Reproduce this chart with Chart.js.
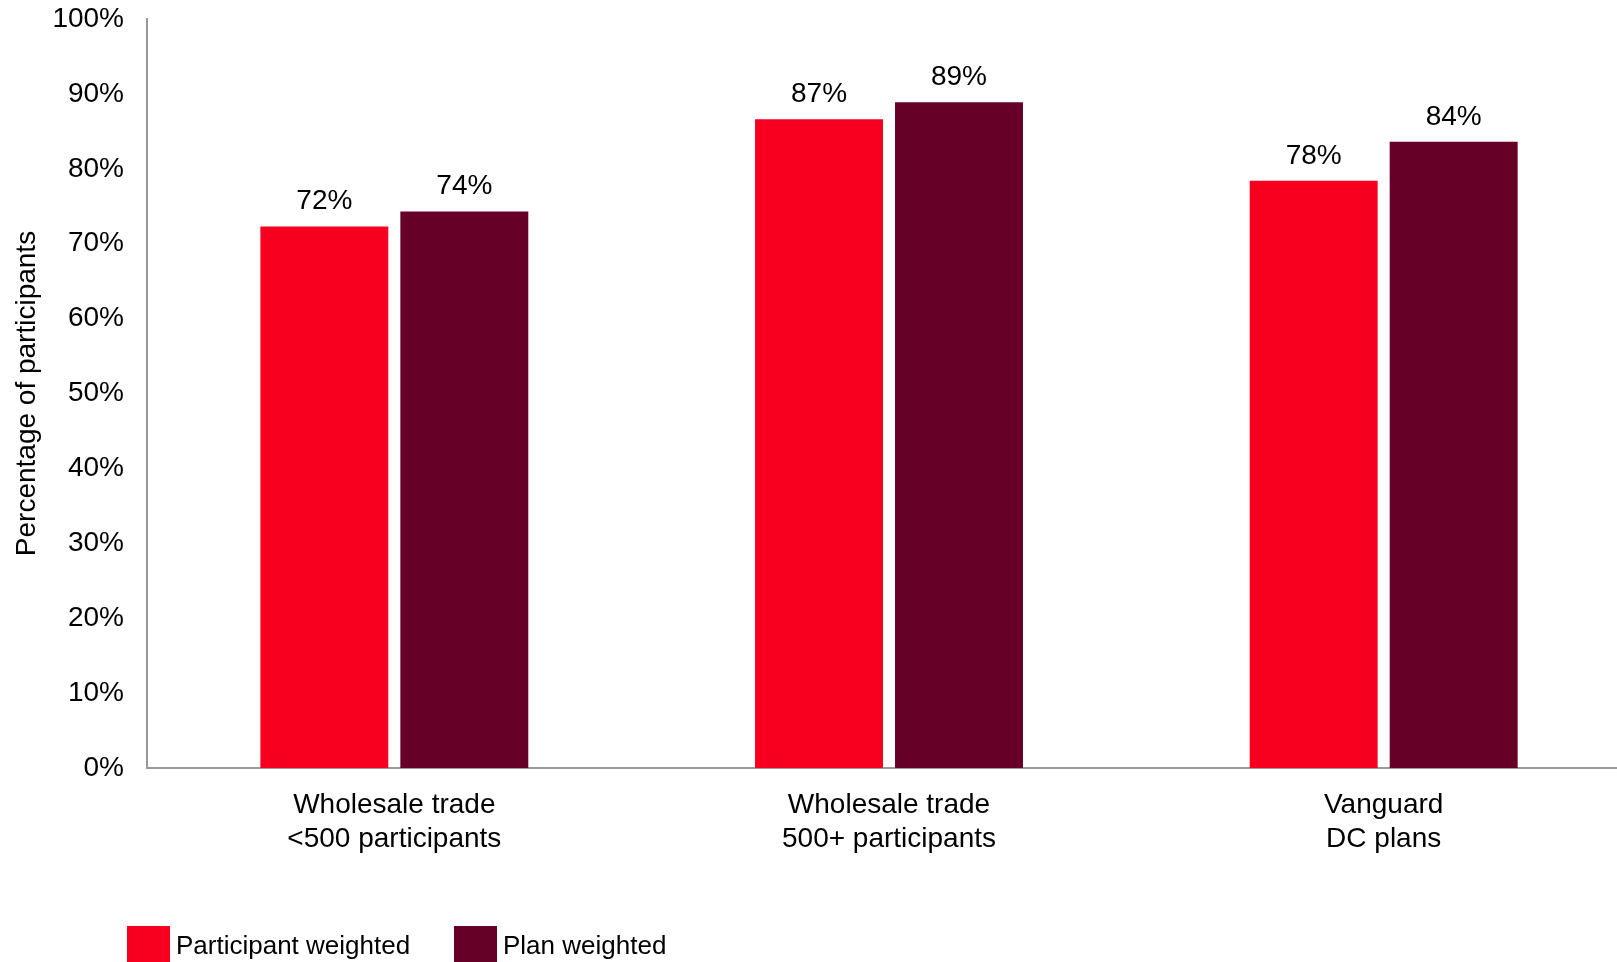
<!DOCTYPE html>
<html>
<head>
<meta charset="utf-8">
<script src="https://cdn.jsdelivr.net/npm/chart.js@4/dist/chart.umd.min.js"></script>
<style>
  html, body { margin: 0; padding: 0; background: #fff; overflow: hidden; }
  #wrap { position: relative; width: 1631px; height: 985px; }
</style>
</head>
<body>
<div id="wrap"><canvas id="chart"></canvas></div>
<script>
const categories = [
  ["Wholesale trade", "<500 participants"],
  ["Wholesale trade", "500+ participants"],
  ["Vanguard", "DC plans"],
];
const participantWeighted = [72.3, 86.6, 78.4];
const planWeighted = [74.3, 88.9, 83.6];
const seriesNames = ["Participant weighted", "Plan weighted"];
const yTicks = [0, 10, 20, 30, 40, 50, 60, 70, 80, 90, 100];

const FONT = "'Liberation Sans', Arial, sans-serif";

// value labels above each bar
const barLabels = {
  id: "barLabels",
  afterDatasetsDraw(chart) {
    const ctx = chart.ctx;
    ctx.save();
    ctx.font = "28px " + FONT;
    ctx.fillStyle = "#000";
    ctx.textAlign = "center";
    ctx.textBaseline = "alphabetic";
    chart.data.datasets.forEach((ds, i) => {
      chart.getDatasetMeta(i).data.forEach((bar, j) => {
        ctx.fillText(Math.round(ds.data[j]) + "%", bar.x, bar.y - 17);
      });
    });
    ctx.restore();
  },
};

// legend at the bottom left, partly cut off by the window edge
const bottomLegend = {
  id: "bottomLegend",
  afterDraw(chart) {
    const ctx = chart.ctx;
    const starts = [127, 454];
    ctx.save();
    ctx.font = "26px " + FONT;
    ctx.textBaseline = "alphabetic";
    chart.data.datasets.forEach((ds, i) => {
      const x = starts[i];
      ctx.fillStyle = ds.backgroundColor;
      ctx.fillRect(x, 926, 43, 43);
      ctx.fillStyle = "#000";
      ctx.fillText(ds.label, x + 49, 954);
    });
    ctx.restore();
  },
};

const ctx = document.getElementById("chart").getContext("2d");
new Chart(ctx, {
  type: "bar",
  data: {
    labels: categories,
    datasets: [
      {
        label: seriesNames[0],
        data: participantWeighted,
        backgroundColor: "#F7001F",
        categoryPercentage: 0.566,
        barPercentage: 0.914,
      },
      {
        label: seriesNames[1],
        data: planWeighted,
        backgroundColor: "#660027",
        categoryPercentage: 0.566,
        barPercentage: 0.914,
      },
    ],
  },
  options: {
    responsive: true,
    maintainAspectRatio: false,
    animation: false,
    layout: { padding: { top: 19, left: 0, right: 0, bottom: 130 } },
    plugins: {
      legend: { display: false },
      tooltip: { enabled: false },
    },
    scales: {
      x: {
        grid: { display: false, drawTicks: false },
        border: { display: true, color: "#999", width: 2 },
        ticks: {
          color: "#000",
          font: { family: FONT, size: 28, lineHeight: 1.23 },
          padding: 20,
          maxRotation: 0,
        },
        afterFit(s) { s.height = 87; },
      },
      y: {
        min: 0,
        max: 100,
        afterBuildTicks(s) { s.ticks = yTicks.map(v => ({ value: v })); },
        grid: { display: false, drawTicks: false },
        border: { display: true, color: "#999", width: 2 },
        ticks: {
          color: "#000",
          font: { family: FONT, size: 28 },
          padding: 23,
          callback: v => v + "%",
        },
        title: {
          display: true,
          text: "Percentage of participants",
          color: "#000",
          font: { family: FONT, size: 28 },
          padding: { top: 10, bottom: 0 },
        },
        afterFit(s) {
          s.width = 147;
          s.paddingTop = 0;
          s.paddingBottom = 0;
        },
      },
    },
  },
  plugins: [barLabels, bottomLegend],
});
</script>
</body>
</html>
